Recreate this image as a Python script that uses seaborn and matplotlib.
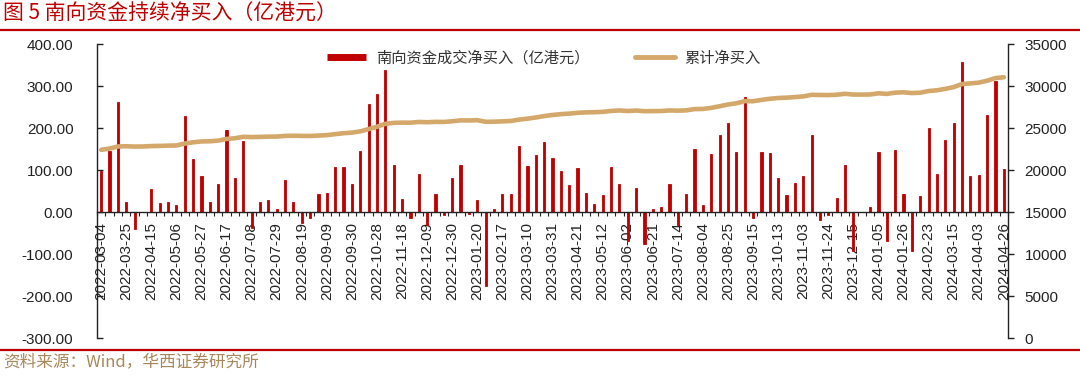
import numpy as np
import pandas as pd
import seaborn as sns
import matplotlib.pyplot as plt
from matplotlib.lines import Line2D

# colours
RED = '#C00000'
TAN = '#D4A86A'
BROWN = '#A8875A'

# weekly southbound net buy (100m HKD), left axis
net_buy = [97, 146, 263, 25, -40, 1, 55, 21, 25, 17,
           229, 126, 85, 24, 67, 196, 82, 170, -37, 24,
           28, 6, 77, 24, -25, -14, 43, 45, 107, 107,
           66, 146, 256, 281, 339, 112, 32, -15, 90, -31,
           44, -8, 81, 112, -5, 28, -175, 6, 43, 44,
           158, 109, 135, 167, 129, 97, 64, 105, 45, 18,
           40, 108, 66, -69, 58, -77, 8, 12, 67, -31,
           43, 150, 16, 139, 184, 212, 144, 275, -15, 144,
           140, 82, 40, 69, 86, 184, -20, -6, 34, 112,
           -93, 1, 11, 143, -69, 147, 44, -94, 39, 200,
           91, 171, 213, 356, 86, 88, 230, 313, 102]

# cumulative net buy, right axis
cum_buy = [22400, 22550, 22800, 22830, 22790, 22800, 22850, 22870, 22900, 22920,
           23150, 23300, 23400, 23420, 23500, 23700, 23780, 23950, 23920, 23940,
           23970, 23980, 24060, 24080, 24060, 24050, 24100, 24150, 24270, 24380,
           24450, 24600, 24870, 25150, 25500, 25610, 25640, 25630, 25720, 25690,
           25730, 25720, 25800, 25910, 25900, 25930, 25740, 25750, 25790, 25830,
           26000, 26110, 26250, 26420, 26550, 26650, 26710, 26810, 26860, 26880,
           26920, 27030, 27090, 27020, 27080, 27000, 27010, 27020, 27090, 27060,
           27100, 27250, 27270, 27400, 27590, 27800, 27940, 28200, 28190, 28340,
           28480, 28570, 28610, 28680, 28760, 28950, 28930, 28920, 28960, 29070,
           28980, 28980, 28990, 29130, 29060, 29210, 29250, 29160, 29200, 29400,
           29490, 29660, 29870, 30230, 30310, 30400, 30630, 30940, 31040]

# every third week is labelled
tick_labels = ['2022-03-04', '2022-03-25', '2022-04-15', '2022-05-06', '2022-05-27',
               '2022-06-17', '2022-07-08', '2022-07-29', '2022-08-19', '2022-09-09',
               '2022-09-30', '2022-10-28', '2022-11-18', '2022-12-09', '2022-12-30',
               '2023-01-20', '2023-02-17', '2023-03-10', '2023-03-31', '2023-04-21',
               '2023-05-12', '2023-06-02', '2023-06-21', '2023-07-14', '2023-08-04',
               '2023-08-25', '2023-09-15', '2023-10-13', '2023-11-03', '2023-11-24',
               '2023-12-15', '2024-01-05', '2024-01-26', '2024-02-23', '2024-03-15',
               '2024-04-03', '2024-04-26']

left_ticks = [-300, -200, -100, 0, 100, 200, 300, 400]
right_ticks = [0, 5000, 10000, 15000, 20000, 25000, 30000, 35000]

df = pd.DataFrame({'week': np.arange(len(net_buy)), 'net': net_buy, 'cum': cum_buy})

sns.set_style('ticks')
plt.rcParams['font.family'] = ['Liberation Sans', 'Noto Sans CJK SC']
CJK = ['Noto Sans CJK SC', 'DejaVu Sans']

fig = plt.figure(figsize=(10.8, 3.77), dpi=100)
ax = fig.add_axes([97 / 1080, 39 / 377, 911 / 1080, 294 / 377])

sns.barplot(data=df, x='week', y='net', color=RED, width=0.26, saturation=1,
            edgecolor=RED, linewidth=0.6, ax=ax)

ax2 = ax.twinx()
sns.lineplot(data=df, x='week', y='cum', color=TAN, linewidth=3.3, ax=ax2)
ax2.set_ylim(0, 35000)
ax2.set_yticks(right_ticks)
ax2.set_ylabel('')
ax2.set_xlabel('')
for s in ['top', 'left', 'bottom']:
    ax2.spines[s].set_visible(False)
ax2.spines['right'].set_linewidth(1.0)
ax2.spines['right'].set_color('#222222')
ax2.tick_params(axis='y', direction='out', length=4, width=1, pad=8, labelsize=11, colors='#222222')

# left axis + categorical x axis (set after the twin so nothing resets it)
ax.set_xlim(-0.5, len(net_buy) - 0.5)
ax.set_ylim(-300, 400)
ax.set_yticks(left_ticks)
ax.set_yticklabels([f'{v:.2f}' for v in left_ticks])
ax.set_xticks(np.arange(0, len(net_buy), 3))
ax.set_xticklabels(tick_labels)
ax.set_xticks(np.arange(-0.5, len(net_buy), 1), minor=True)
ax.set_xlabel('')
ax.set_ylabel('')

ax.spines['bottom'].set_position(('data', 0))
ax.spines['top'].set_visible(False)
ax.spines['right'].set_visible(False)
for s in ['left', 'bottom']:
    ax.spines[s].set_linewidth(1.0)
    ax.spines[s].set_color('#222222')
ax.tick_params(axis='y', direction='in', length=4, width=1, pad=17, labelsize=11, colors='#222222')
ax.tick_params(axis='x', which='major', length=0, pad=7, labelsize=11, colors='#222222',
               labelrotation=90)
ax.tick_params(axis='x', which='minor', direction='out', length=3, width=0.8, color='#222222')

handles = [Line2D([], [], color=RED, lw=5, solid_capstyle='butt'),
           Line2D([], [], color=TAN, lw=3.5, solid_capstyle='round')]
leg = ax2.legend(handles, ['南向资金成交净买入（亿港元）', '累计净买入'],
                 loc='center', bbox_to_anchor=(0.49, 0.952), ncol=2, frameon=False,
                 handlelength=2.6, columnspacing=3.0, handletextpad=0.6,
                 prop={'family': CJK, 'size': 11})
for t in leg.get_texts():
    t.set_color('#333333')

# title, rules and source note
fig.text(0.003, 0.965, '图 5 南向资金持续净买入（亿港元）', family=CJK, fontsize=15,
         color=RED, ha='left', va='center')
fig.add_artist(Line2D([0, 1], [1 - 29.5 / 377, 1 - 29.5 / 377], color=RED, lw=1.6,
                      transform=fig.transFigure))
fig.add_artist(Line2D([0, 1], [1 - 350 / 377, 1 - 350 / 377], color=RED, lw=1.6,
                      transform=fig.transFigure))
fig.text(0.003, 1 - 362 / 377, '资料来源：Wind，华西证券研究所', family=CJK, fontsize=12,
         color=BROWN, ha='left', va='center')

plt.savefig('out.png', dpi=100)
